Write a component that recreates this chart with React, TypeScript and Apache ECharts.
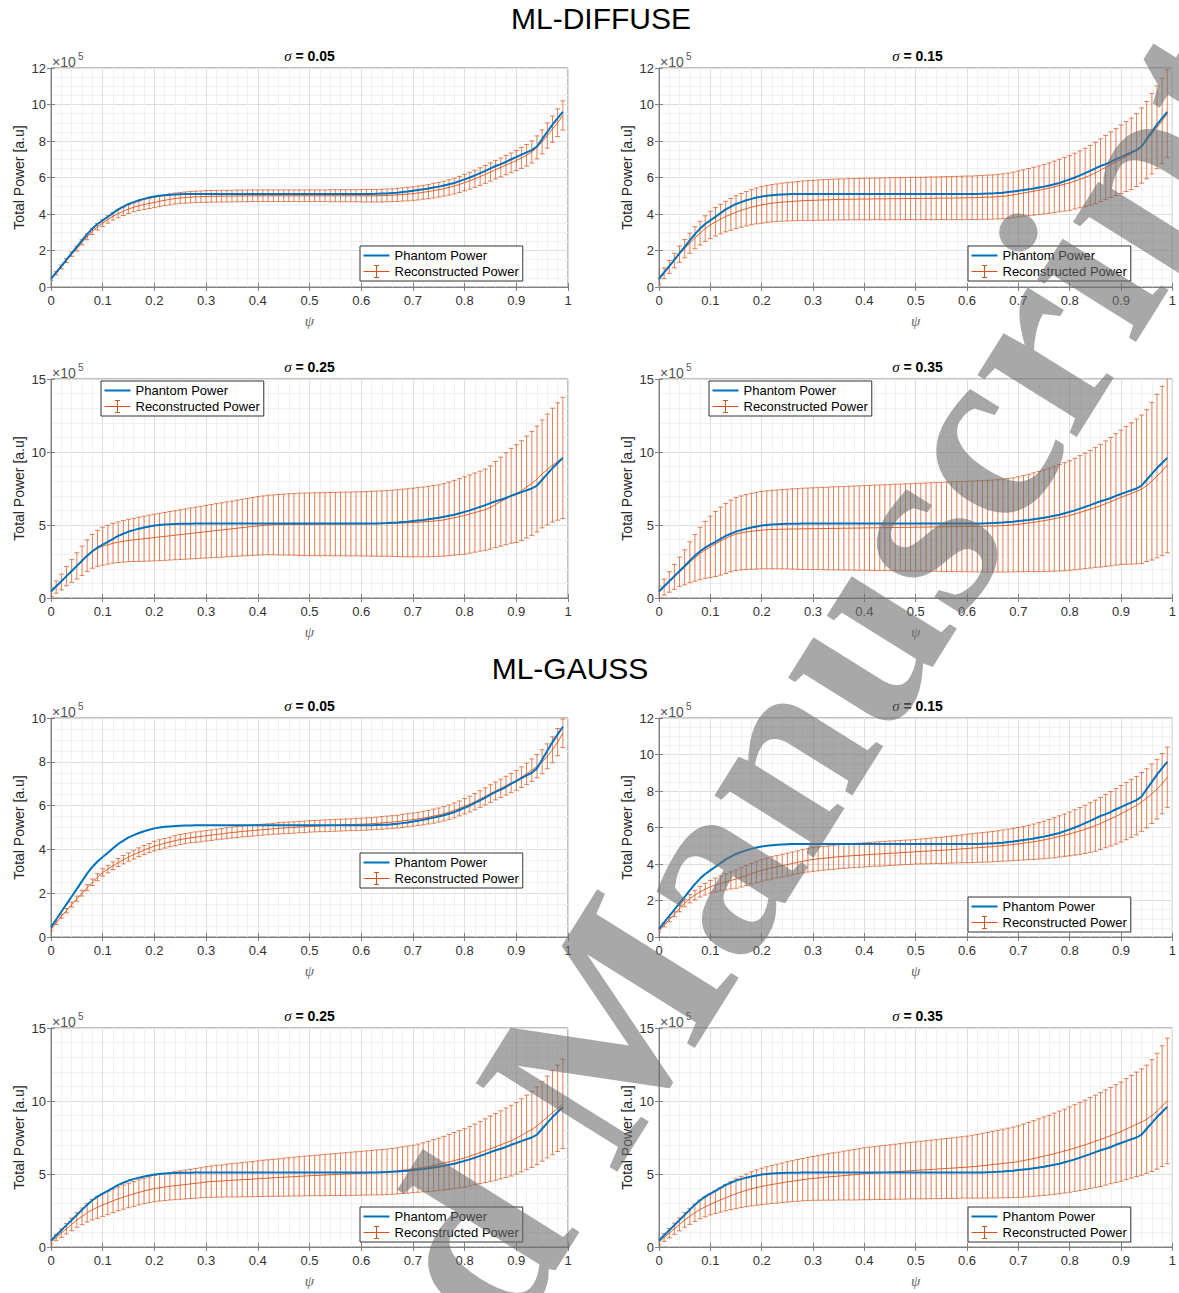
import React, { useEffect, useRef } from 'react';
import * as echarts from 'echarts';

// ---------- data (values in units of 1e5) ----------
const psi = [
  0, 0.01, 0.02, 0.03, 0.04, 0.05, 0.06, 0.07, 0.08, 0.09,
  0.1, 0.11, 0.12, 0.13, 0.14, 0.15, 0.16, 0.17, 0.18, 0.19,
  0.2, 0.21, 0.22, 0.23, 0.24, 0.25, 0.26, 0.27, 0.28, 0.29,
  0.3, 0.31, 0.32, 0.33, 0.34, 0.35, 0.36, 0.37, 0.38, 0.39,
  0.4, 0.41, 0.42, 0.43, 0.44, 0.45, 0.46, 0.47, 0.48, 0.49,
  0.5, 0.51, 0.52, 0.53, 0.54, 0.55, 0.56, 0.57, 0.58, 0.59,
  0.6, 0.61, 0.62, 0.63, 0.64, 0.65, 0.66, 0.67, 0.68, 0.69,
  0.7, 0.71, 0.72, 0.73, 0.74, 0.75, 0.76, 0.77, 0.78, 0.79,
  0.8, 0.81, 0.82, 0.83, 0.84, 0.85, 0.86, 0.87, 0.88, 0.89,
  0.9, 0.91, 0.92, 0.93, 0.94, 0.95, 0.96, 0.97, 0.98, 0.99,
];

const phantomPower = [
  0.45, 0.8, 1.15, 1.5, 1.85, 2.2, 2.55, 2.9, 3.2, 3.45,
  3.65, 3.85, 4.05, 4.25, 4.4, 4.55, 4.65, 4.75, 4.83, 4.9,
  4.96, 5.0, 5.03, 5.05, 5.07, 5.08, 5.09, 5.09, 5.1, 5.1,
  5.1, 5.1, 5.1, 5.1, 5.1, 5.1, 5.1, 5.1, 5.1, 5.1,
  5.1, 5.1, 5.1, 5.1, 5.1, 5.1, 5.1, 5.1, 5.1, 5.1,
  5.1, 5.1, 5.1, 5.1, 5.1, 5.1, 5.1, 5.1, 5.1, 5.1,
  5.1, 5.1, 5.1, 5.11, 5.12, 5.13, 5.15, 5.17, 5.2, 5.23,
  5.27, 5.31, 5.35, 5.4, 5.45, 5.5, 5.56, 5.63, 5.7, 5.8,
  5.9, 6.0, 6.12, 6.24, 6.36, 6.5, 6.63, 6.73, 6.85, 7.0,
  7.12, 7.25, 7.38, 7.5, 7.7, 8.1, 8.5, 8.9, 9.25, 9.6,
];

// ML-DIFFUSE
const diffuse005Mean = [
  0.45, 0.75, 1.1, 1.45, 1.8, 2.1, 2.45, 2.75, 3.05, 3.3,
  3.5, 3.7, 3.88, 4.02, 4.15, 4.27, 4.37, 4.45, 4.52, 4.58,
  4.63, 4.7, 4.75, 4.8, 4.85, 4.88, 4.9, 4.92, 4.94, 4.95,
  4.96, 4.97, 4.97, 4.98, 4.98, 4.98, 4.99, 4.99, 4.99, 5.0,
  5.0, 5.0, 5.0, 5.0, 5.0, 5.0, 5.0, 5.0, 5.0, 5.0,
  5.0, 5.0, 5.0, 5.0, 5.0, 5.0, 5.0, 5.0, 5.0, 5.0,
  5.0, 5.0, 5.0, 5.0, 5.01, 5.02, 5.03, 5.05, 5.07, 5.09,
  5.12, 5.15, 5.19, 5.23, 5.28, 5.33, 5.39, 5.46, 5.53, 5.62,
  5.72, 5.82, 5.93, 6.05, 6.17, 6.3, 6.43, 6.55, 6.68, 6.8,
  6.93, 7.07, 7.22, 7.4, 7.65, 7.95, 8.3, 8.65, 9.0, 9.4,
];
const diffuse005Err = [
  0.08, 0.09, 0.1, 0.11, 0.12, 0.13, 0.14, 0.16, 0.17, 0.18,
  0.19, 0.2, 0.21, 0.22, 0.23, 0.24, 0.25, 0.26, 0.27, 0.28,
  0.28, 0.29, 0.29, 0.3, 0.3, 0.3, 0.31, 0.31, 0.31, 0.31,
  0.32, 0.32, 0.32, 0.32, 0.32, 0.32, 0.32, 0.32, 0.32, 0.32,
  0.32, 0.32, 0.32, 0.32, 0.32, 0.32, 0.32, 0.32, 0.32, 0.32,
  0.32, 0.32, 0.32, 0.32, 0.33, 0.33, 0.33, 0.33, 0.33, 0.33,
  0.34, 0.34, 0.34, 0.34, 0.35, 0.35, 0.35, 0.36, 0.36, 0.37,
  0.37, 0.38, 0.38, 0.39, 0.4, 0.4, 0.41, 0.42, 0.43, 0.44,
  0.45, 0.46, 0.47, 0.48, 0.49, 0.5, 0.51, 0.52, 0.53, 0.54,
  0.55, 0.57, 0.59, 0.61, 0.63, 0.66, 0.69, 0.72, 0.76, 0.8,
];

const diffuse015Mean = [
  0.4, 0.75, 1.1, 1.45, 1.8, 2.1, 2.4, 2.7, 2.95, 3.2,
  3.4, 3.57, 3.72, 3.86, 3.98, 4.1, 4.2, 4.29, 4.37, 4.44,
  4.5, 4.55, 4.59, 4.62, 4.65, 4.67, 4.69, 4.71, 4.73, 4.74,
  4.75, 4.76, 4.77, 4.78, 4.79, 4.8, 4.8, 4.81, 4.81, 4.82,
  4.82, 4.82, 4.83, 4.83, 4.83, 4.84, 4.84, 4.84, 4.85, 4.85,
  4.85, 4.85, 4.86, 4.86, 4.86, 4.87, 4.87, 4.87, 4.88, 4.88,
  4.89, 4.89, 4.9, 4.91, 4.92, 4.93, 4.95, 4.97, 5.0, 5.05,
  5.1, 5.15, 5.2, 5.25, 5.3, 5.36, 5.42, 5.49, 5.56, 5.63,
  5.7, 5.8, 5.9, 6.0, 6.12, 6.25, 6.4, 6.55, 6.7, 6.85,
  7.0, 7.15, 7.3, 7.5, 7.75, 8.05, 8.4, 8.75, 9.1, 9.5,
];
const diffuse015Err = [
  0.25, 0.3, 0.35, 0.4, 0.45, 0.5, 0.55, 0.6, 0.65, 0.7,
  0.75, 0.78, 0.81, 0.84, 0.87, 0.9, 0.92, 0.94, 0.96, 0.98,
  1.0, 1.01, 1.02, 1.03, 1.04, 1.05, 1.06, 1.07, 1.08, 1.09,
  1.1, 1.1, 1.11, 1.11, 1.12, 1.12, 1.12, 1.13, 1.13, 1.13,
  1.14, 1.14, 1.14, 1.14, 1.15, 1.15, 1.15, 1.15, 1.15, 1.16,
  1.16, 1.16, 1.16, 1.17, 1.17, 1.17, 1.18, 1.18, 1.18, 1.19,
  1.19, 1.19, 1.2, 1.2, 1.21, 1.21, 1.22, 1.23, 1.24, 1.25,
  1.26, 1.27, 1.29, 1.31, 1.33, 1.35, 1.38, 1.41, 1.44, 1.47,
  1.5, 1.53, 1.56, 1.6, 1.64, 1.68, 1.72, 1.76, 1.8, 1.84,
  1.88, 1.92, 1.96, 2.0, 2.06, 2.12, 2.2, 2.27, 2.34, 2.4,
];

const diffuse025Mean = [
  0.4, 0.75, 1.1, 1.5, 1.85, 2.2, 2.55, 2.9, 3.2, 3.4,
  3.55, 3.65, 3.75, 3.82, 3.88, 3.94, 3.98, 4.02, 4.06, 4.1,
  4.14, 4.18, 4.22, 4.26, 4.3, 4.34, 4.38, 4.42, 4.46, 4.5,
  4.54, 4.58, 4.62, 4.66, 4.7, 4.74, 4.78, 4.82, 4.86, 4.9,
  4.94, 4.97, 5.0, 5.01, 5.02, 5.03, 5.04, 5.04, 5.05, 5.05,
  5.05, 5.05, 5.05, 5.06, 5.06, 5.06, 5.07, 5.07, 5.07, 5.08,
  5.08, 5.08, 5.09, 5.09, 5.1, 5.11, 5.12, 5.13, 5.14, 5.15,
  5.17, 5.19, 5.21, 5.24, 5.27, 5.3, 5.35, 5.42, 5.5, 5.58,
  5.65, 5.75, 5.85, 5.95, 6.05, 6.2, 6.4, 6.6, 6.8, 7.0,
  7.15, 7.35, 7.6, 7.85, 8.15, 8.5, 8.8, 9.1, 9.35, 9.6,
];
const diffuse025Err = [
  0.3, 0.42, 0.54, 0.66, 0.78, 0.9, 1.0, 1.08, 1.16, 1.23,
  1.3, 1.33, 1.36, 1.39, 1.42, 1.45, 1.48, 1.51, 1.54, 1.57,
  1.6, 1.62, 1.64, 1.66, 1.68, 1.7, 1.72, 1.74, 1.76, 1.78,
  1.8, 1.82, 1.84, 1.86, 1.88, 1.9, 1.92, 1.94, 1.96, 1.98,
  2.0, 2.02, 2.04, 2.05, 2.07, 2.08, 2.1, 2.11, 2.13, 2.14,
  2.15, 2.15, 2.16, 2.16, 2.17, 2.17, 2.18, 2.18, 2.19, 2.19,
  2.2, 2.21, 2.22, 2.23, 2.24, 2.25, 2.27, 2.29, 2.31, 2.33,
  2.35, 2.37, 2.39, 2.41, 2.43, 2.45, 2.48, 2.52, 2.56, 2.6,
  2.65, 2.68, 2.71, 2.74, 2.78, 2.85, 2.95, 3.05, 3.15, 3.25,
  3.35, 3.42, 3.49, 3.56, 3.63, 3.7, 3.8, 3.9, 4.02, 4.15,
];

const diffuse035Mean = [
  0.4, 0.75, 1.1, 1.45, 1.8, 2.1, 2.45, 2.75, 3.05, 3.3,
  3.5, 3.7, 3.9, 4.08, 4.25, 4.38, 4.46, 4.52, 4.57, 4.61,
  4.65, 4.67, 4.69, 4.7, 4.71, 4.72, 4.73, 4.73, 4.74, 4.74,
  4.75, 4.75, 4.76, 4.76, 4.77, 4.77, 4.78, 4.78, 4.79, 4.79,
  4.8, 4.8, 4.81, 4.81, 4.82, 4.82, 4.83, 4.83, 4.84, 4.84,
  4.85, 4.85, 4.86, 4.86, 4.87, 4.87, 4.88, 4.88, 4.89, 4.89,
  4.9, 4.9, 4.91, 4.91, 4.92, 4.93, 4.94, 4.96, 4.98, 5.01,
  5.05, 5.09, 5.14, 5.19, 5.24, 5.3, 5.36, 5.43, 5.5, 5.57,
  5.65, 5.75, 5.86, 5.97, 6.08, 6.2, 6.32, 6.46, 6.6, 6.75,
  6.9, 7.03, 7.16, 7.3, 7.45, 7.7, 8.0, 8.35, 8.7, 9.1,
];
const diffuse035Err = [
  0.4, 0.55, 0.7, 0.85, 1.0, 1.2, 1.4, 1.6, 1.8, 1.95,
  2.1, 2.22, 2.33, 2.4, 2.45, 2.5, 2.53, 2.56, 2.6, 2.63,
  2.65, 2.67, 2.69, 2.7, 2.72, 2.73, 2.75, 2.76, 2.78, 2.79,
  2.8, 2.81, 2.82, 2.83, 2.84, 2.85, 2.86, 2.87, 2.88, 2.89,
  2.9, 2.91, 2.92, 2.93, 2.94, 2.95, 2.96, 2.97, 2.98, 2.99,
  3.0, 3.01, 3.02, 3.03, 3.04, 3.05, 3.06, 3.07, 3.08, 3.09,
  3.1, 3.11, 3.12, 3.13, 3.14, 3.15, 3.16, 3.18, 3.2, 3.22,
  3.25, 3.29, 3.33, 3.38, 3.43, 3.48, 3.53, 3.59, 3.65, 3.7,
  3.75, 3.82, 3.89, 3.96, 4.03, 4.1, 4.2, 4.3, 4.4, 4.5,
  4.6, 4.72, 4.84, 4.96, 5.08, 5.2, 5.4, 5.6, 5.8, 6.0,
];

// ML-GAUSS
const gauss005Mean = [
  0.35, 0.65, 0.95, 1.2, 1.48, 1.75, 2.0, 2.25, 2.5, 2.73,
  2.95, 3.1, 3.25, 3.4, 3.53, 3.65, 3.76, 3.87, 3.97, 4.06,
  4.15, 4.22, 4.28, 4.34, 4.4, 4.45, 4.49, 4.53, 4.56, 4.59,
  4.62, 4.65, 4.68, 4.71, 4.74, 4.77, 4.79, 4.82, 4.84, 4.86,
  4.88, 4.9, 4.92, 4.94, 4.96, 4.98, 4.99, 5.0, 5.02, 5.03,
  5.05, 5.06, 5.07, 5.08, 5.09, 5.1, 5.11, 5.12, 5.13, 5.14,
  5.15, 5.16, 5.17, 5.19, 5.21, 5.23, 5.25, 5.27, 5.3, 5.33,
  5.36, 5.39, 5.43, 5.47, 5.52, 5.57, 5.63, 5.7, 5.78, 5.87,
  5.97, 6.07, 6.18, 6.3, 6.42, 6.55, 6.67, 6.79, 6.91, 7.03,
  7.15, 7.3, 7.45, 7.62, 7.8, 8.0, 8.25, 8.55, 8.9, 9.3,
];
const gauss005Err = [
  0.07, 0.08, 0.09, 0.1, 0.11, 0.12, 0.13, 0.14, 0.15, 0.16,
  0.17, 0.17, 0.18, 0.18, 0.19, 0.19, 0.2, 0.2, 0.21, 0.21,
  0.22, 0.22, 0.22, 0.22, 0.23, 0.23, 0.23, 0.23, 0.24, 0.24,
  0.24, 0.24, 0.24, 0.24, 0.25, 0.25, 0.25, 0.25, 0.25, 0.25,
  0.25, 0.25, 0.25, 0.25, 0.26, 0.26, 0.26, 0.26, 0.26, 0.26,
  0.26, 0.26, 0.26, 0.27, 0.27, 0.27, 0.27, 0.27, 0.27, 0.28,
  0.28, 0.28, 0.28, 0.28, 0.29, 0.29, 0.29, 0.29, 0.3, 0.3,
  0.3, 0.3, 0.31, 0.31, 0.32, 0.32, 0.33, 0.33, 0.34, 0.34,
  0.35, 0.36, 0.37, 0.38, 0.39, 0.4, 0.41, 0.42, 0.43, 0.44,
  0.45, 0.47, 0.49, 0.51, 0.53, 0.55, 0.57, 0.59, 0.62, 0.65,
];

const gauss015Mean = [
  0.35, 0.65, 0.95, 1.25, 1.55, 1.85, 2.1, 2.3, 2.48, 2.62,
  2.75, 2.85, 2.94, 3.02, 3.1, 3.17, 3.27, 3.37, 3.47, 3.56,
  3.65, 3.72, 3.79, 3.85, 3.91, 3.97, 4.03, 4.09, 4.15, 4.2,
  4.25, 4.28, 4.31, 4.34, 4.37, 4.4, 4.42, 4.44, 4.46, 4.48,
  4.5, 4.52, 4.54, 4.55, 4.57, 4.59, 4.6, 4.62, 4.64, 4.65,
  4.67, 4.69, 4.7, 4.72, 4.74, 4.75, 4.77, 4.79, 4.81, 4.83,
  4.85, 4.87, 4.89, 4.91, 4.93, 4.95, 4.98, 5.01, 5.04, 5.07,
  5.1, 5.14, 5.18, 5.22, 5.27, 5.32, 5.38, 5.44, 5.51, 5.58,
  5.65, 5.73, 5.81, 5.9, 6.0, 6.1, 6.22, 6.35, 6.48, 6.61,
  6.75, 6.9, 7.05, 7.2, 7.4, 7.6, 7.85, 8.1, 8.4, 8.75,
];
const gauss015Err = [
  0.08, 0.1, 0.12, 0.14, 0.17, 0.2, 0.23, 0.26, 0.29, 0.32,
  0.35, 0.38, 0.41, 0.44, 0.47, 0.5, 0.53, 0.55, 0.57, 0.59,
  0.6, 0.6, 0.61, 0.61, 0.62, 0.62, 0.63, 0.63, 0.64, 0.64,
  0.65, 0.65, 0.65, 0.65, 0.66, 0.66, 0.66, 0.66, 0.66, 0.66,
  0.66, 0.66, 0.66, 0.67, 0.67, 0.67, 0.67, 0.67, 0.67, 0.67,
  0.67, 0.68, 0.69, 0.7, 0.71, 0.72, 0.73, 0.74, 0.75, 0.76,
  0.78, 0.79, 0.8, 0.81, 0.82, 0.83, 0.84, 0.86, 0.87, 0.88,
  0.9, 0.92, 0.94, 0.97, 1.0, 1.03, 1.06, 1.1, 1.13, 1.16,
  1.2, 1.24, 1.28, 1.32, 1.36, 1.4, 1.43, 1.46, 1.49, 1.52,
  1.55, 1.57, 1.59, 1.6, 1.61, 1.62, 1.63, 1.64, 1.65, 1.65,
];

const gauss025Mean = [
  0.35, 0.65, 0.95, 1.25, 1.55, 1.85, 2.1, 2.35, 2.55, 2.72,
  2.88, 3.02, 3.16, 3.3, 3.42, 3.53, 3.64, 3.74, 3.84, 3.92,
  4.0, 4.06, 4.11, 4.16, 4.2, 4.24, 4.28, 4.32, 4.36, 4.4,
  4.45, 4.48, 4.5, 4.52, 4.55, 4.57, 4.59, 4.61, 4.63, 4.65,
  4.68, 4.7, 4.72, 4.74, 4.76, 4.78, 4.8, 4.82, 4.84, 4.86,
  4.88, 4.9, 4.91, 4.93, 4.95, 4.96, 4.98, 5.0, 5.01, 5.03,
  5.05, 5.07, 5.09, 5.11, 5.13, 5.15, 5.18, 5.22, 5.26, 5.3,
  5.35, 5.4, 5.46, 5.52, 5.59, 5.66, 5.74, 5.83, 5.92, 6.01,
  6.1, 6.22, 6.34, 6.47, 6.6, 6.73, 6.86, 7.0, 7.14, 7.28,
  7.45, 7.65, 7.85, 8.05, 8.3, 8.6, 8.9, 9.2, 9.5, 9.8,
];
const gauss025Err = [
  0.15, 0.22, 0.29, 0.36, 0.43, 0.5, 0.57, 0.64, 0.7, 0.75,
  0.78, 0.8, 0.81, 0.82, 0.83, 0.84, 0.85, 0.86, 0.87, 0.88,
  0.9, 0.91, 0.93, 0.94, 0.96, 0.97, 0.99, 1.0, 1.02, 1.03,
  1.05, 1.07, 1.09, 1.1, 1.12, 1.14, 1.16, 1.17, 1.19, 1.2,
  1.22, 1.24, 1.25, 1.27, 1.28, 1.3, 1.31, 1.33, 1.34, 1.36,
  1.37, 1.38, 1.4, 1.41, 1.42, 1.44, 1.45, 1.46, 1.48, 1.49,
  1.5, 1.51, 1.52, 1.54, 1.55, 1.56, 1.57, 1.58, 1.6, 1.61,
  1.62, 1.65, 1.68, 1.72, 1.76, 1.8, 1.84, 1.88, 1.92, 1.96,
  2.0, 2.04, 2.08, 2.13, 2.18, 2.23, 2.28, 2.33, 2.38, 2.42,
  2.45, 2.5, 2.55, 2.6, 2.66, 2.72, 2.8, 2.88, 2.96, 3.05,
];

const gauss035Mean = [
  0.35, 0.65, 0.95, 1.25, 1.55, 1.85, 2.1, 2.35, 2.57, 2.75,
  2.92, 3.08, 3.23, 3.38, 3.52, 3.65, 3.77, 3.88, 3.98, 4.07,
  4.15, 4.22, 4.28, 4.34, 4.4, 4.46, 4.51, 4.56, 4.61, 4.66,
  4.7, 4.73, 4.77, 4.8, 4.83, 4.86, 4.89, 4.92, 4.95, 4.98,
  5.02, 5.04, 5.06, 5.09, 5.11, 5.13, 5.16, 5.18, 5.2, 5.23,
  5.25, 5.27, 5.29, 5.31, 5.33, 5.36, 5.38, 5.4, 5.42, 5.45,
  5.47, 5.5, 5.53, 5.57, 5.6, 5.64, 5.68, 5.72, 5.76, 5.8,
  5.85, 5.92, 5.99, 6.06, 6.14, 6.22, 6.3, 6.39, 6.48, 6.57,
  6.67, 6.78, 6.89, 7.0, 7.12, 7.24, 7.36, 7.5, 7.63, 7.77,
  7.9, 8.07, 8.24, 8.4, 8.56, 8.75, 9.0, 9.3, 9.65, 10.0,
];
const gauss035Err = [
  0.2, 0.26, 0.32, 0.38, 0.44, 0.5, 0.55, 0.6, 0.64, 0.68,
  0.72, 0.78, 0.84, 0.9, 0.96, 1.02, 1.07, 1.12, 1.17, 1.21,
  1.25, 1.28, 1.3, 1.33, 1.35, 1.38, 1.4, 1.43, 1.45, 1.48,
  1.5, 1.53, 1.56, 1.59, 1.62, 1.64, 1.67, 1.7, 1.73, 1.75,
  1.78, 1.8, 1.81, 1.83, 1.85, 1.87, 1.88, 1.9, 1.92, 1.93,
  1.95, 1.97, 1.99, 2.0, 2.02, 2.04, 2.05, 2.07, 2.09, 2.1,
  2.12, 2.15, 2.18, 2.22, 2.25, 2.28, 2.32, 2.35, 2.38, 2.42,
  2.45, 2.5, 2.55, 2.59, 2.64, 2.69, 2.73, 2.78, 2.83, 2.87,
  2.92, 2.97, 3.02, 3.06, 3.11, 3.16, 3.21, 3.26, 3.3, 3.35,
  3.4, 3.46, 3.52, 3.58, 3.64, 3.7, 3.83, 3.97, 4.13, 4.3,
];

const sectionTitles = ['ML-DIFFUSE', 'ML-GAUSS'];
const sigmaLabels = ['0.05', '0.15', '0.25', '0.35', '0.05', '0.15', '0.25', '0.35'];
const yMaxima = [12, 12, 15, 15, 10, 12, 15, 15];
const yIntervals = [2, 2, 5, 5, 2, 2, 5, 5];
const means = [diffuse005Mean, diffuse015Mean, diffuse025Mean, diffuse035Mean, gauss005Mean, gauss015Mean, gauss025Mean, gauss035Mean];
const errs = [diffuse005Err, diffuse015Err, diffuse025Err, diffuse035Err, gauss005Err, gauss015Err, gauss025Err, gauss035Err];

// ---------- layout / style ----------
const FONT = '"Liberation Sans", Arial, Helvetica, sans-serif';
const SERIF = '"Liberation Serif", "Times New Roman", serif';
const BLUE = '#0072BD';
const ORANGE = '#D95319';
const AXIS = '#808080';
const COL_LEFT = [51, 659];
const ROW_TOP = [68, 379, 718, 1028];
const PLOT_W = 517;
const PLOT_H = 219;
const LEGEND_POS = [
  [360, 246], [968, 246], [101, 381], [709, 381],
  [360, 853], [968, 897], [360, 1207], [968, 1207],
];
const SECTION_POS = [[601, 18], [570, 668]];
const WATERMARK_ROT = (58 * Math.PI) / 180;
const WATERMARK_SIZE = 255;
const WATERMARK_FIRST = [508, 1184];
const WATERMARK_SECOND = [542, 1130];

function buildOption() {
  const grid: any[] = [];
  const xAxis: any[] = [];
  const yAxis: any[] = [];
  const series: any[] = [];
  const legend: any[] = [];
  const graphic: any[] = [];

  for (let i = 0; i < 8; i++) {
    const col = i % 2;
    const row = Math.floor(i / 2);
    const left = COL_LEFT[col];
    const top = ROW_TOP[row];
    const yMax = yMaxima[i];
    const yInt = yIntervals[i];
    grid.push({
      left, top, width: PLOT_W, height: PLOT_H,
      show: true, borderColor: AXIS, borderWidth: 1, backgroundColor: '#fff',
    });
    const common = { gridIndex: i, type: 'value', min: 0 };
    xAxis.push({
      ...common, max: 1, interval: 0.1, position: 'bottom',
      axisLine: { show: true, onZero: false, lineStyle: { color: AXIS, width: 1 } },
      axisTick: { show: true, inside: true, length: 4, lineStyle: { color: AXIS } },
      axisLabel: { color: '#333', fontSize: 13, fontFamily: FONT, margin: 7 },
      splitLine: { show: true, lineStyle: { color: '#dedede', width: 1 } },
      minorTick: { show: false, splitNumber: 5 },
      minorSplitLine: { show: true, lineStyle: { color: '#f1f1f1', width: 1 } },
      name: 'ψ', nameLocation: 'middle', nameGap: 26,
      nameTextStyle: { fontFamily: SERIF, fontStyle: 'italic', fontSize: 15, color: '#666' },
    });
    xAxis.push({
      ...common, max: 1, interval: 0.1, position: 'top',
      axisLine: { show: false },
      axisTick: { show: true, inside: true, length: 4, lineStyle: { color: AXIS } },
      axisLabel: { show: false }, splitLine: { show: false },
    });
    yAxis.push({
      ...common, max: yMax, interval: yInt, position: 'left',
      axisLine: { show: true, onZero: false, lineStyle: { color: AXIS, width: 1 } },
      axisTick: { show: true, inside: true, length: 4, lineStyle: { color: AXIS } },
      axisLabel: { color: '#333', fontSize: 13, fontFamily: FONT, margin: 5 },
      splitLine: { show: true, lineStyle: { color: '#dedede', width: 1 } },
      minorTick: { show: false, splitNumber: yInt === 5 ? 5 : 4 },
      minorSplitLine: { show: true, lineStyle: { color: '#f1f1f1', width: 1 } },
      name: 'Total Power [a.u]', nameLocation: 'middle', nameGap: 25,
      nameTextStyle: { fontFamily: FONT, fontSize: 14, color: '#262626' },
    });
    yAxis.push({
      ...common, max: yMax, interval: yInt, position: 'right',
      axisLine: { show: false },
      axisTick: { show: true, inside: true, length: 4, lineStyle: { color: AXIS } },
      axisLabel: { show: false }, splitLine: { show: false },
    });

    const m = means[i];
    const e = errs[i];
    series.push({
      type: 'custom', name: 'Reconstructed Power',
      xAxisIndex: 2 * i, yAxisIndex: 2 * i,
      clip: true, z: 2,
      itemStyle: { color: ORANGE },
      encode: { x: 0, y: [1, 2] },
      data: psi.map((x, k) => [x, m[k] - e[k], m[k] + e[k]]),
      renderItem: (params: any, api: any) => {
        const x = api.value(0);
        const lo = api.coord([x, api.value(1)]);
        const hi = api.coord([x, api.value(2)]);
        const hw = 2.5;
        const style = { stroke: ORANGE, lineWidth: 1, opacity: 0.72 };
        return {
          type: 'group',
          children: [
            { type: 'line', shape: { x1: lo[0], y1: lo[1], x2: hi[0], y2: hi[1] }, style },
            { type: 'line', shape: { x1: hi[0] - hw, y1: hi[1], x2: hi[0] + hw, y2: hi[1] }, style },
            { type: 'line', shape: { x1: lo[0] - hw, y1: lo[1], x2: lo[0] + hw, y2: lo[1] }, style },
          ],
        };
      },
    });
    series.push({
      type: 'line', name: 'Reconstructed Power',
      xAxisIndex: 2 * i, yAxisIndex: 2 * i, z: 3,
      symbol: 'none', showSymbol: false, clip: true,
      lineStyle: { color: ORANGE, width: 1, opacity: 0.9 },
      itemStyle: { color: ORANGE },
      data: psi.map((x, k) => [x, m[k]]),
    });
    series.push({
      type: 'line', name: 'Phantom Power',
      xAxisIndex: 2 * i, yAxisIndex: 2 * i, z: 4,
      symbol: 'none', showSymbol: false, clip: true,
      lineStyle: { color: BLUE, width: 2 },
      itemStyle: { color: BLUE },
      data: psi.map((x, k) => [x, phantomPower[k]]),
    });

    legend.push({
      orient: 'vertical', left: LEGEND_POS[i][0], top: LEGEND_POS[i][1],
      selectedMode: false, backgroundColor: '#fff', borderColor: '#333', borderWidth: 1,
      borderRadius: 0, padding: [3, 4, 3, 3], itemGap: 3, itemWidth: 26, itemHeight: 14,
      textStyle: { fontSize: 13, color: '#000', fontFamily: FONT },
      z: 10,
      data: [
        {
          name: 'Phantom Power',
          icon: 'path://M0,0L26,0L26,2L0,2Z',
          itemStyle: { color: BLUE, borderWidth: 0 },
        },
        {
          name: 'Reconstructed Power',
          icon: 'path://M0,6L26,6M13,0L13,12M10.5,0L15.5,0M10.5,12L15.5,12',
          itemStyle: { color: 'rgba(0,0,0,0)', borderColor: ORANGE, borderWidth: 1 },
        },
      ],
    });

    graphic.push({
      type: 'text', x: left + PLOT_W / 2, y: top - 12, z: 5,
      style: {
        text: '{s|σ}{b| = ' + sigmaLabels[i] + '}',
        align: 'center', verticalAlign: 'middle',
        rich: {
          s: { fontFamily: SERIF, fontStyle: 'italic', fontSize: 15, fill: '#000' },
          b: { fontFamily: FONT, fontWeight: 'bold', fontSize: 14, fill: '#000' },
        },
      },
    });
    graphic.push({
      type: 'text', x: left + 1, y: top - 6, z: 5,
      style: { text: '×10', fontFamily: FONT, fontSize: 14, fill: '#555', align: 'left', verticalAlign: 'middle' },
    });
    graphic.push({
      type: 'text', x: left + 27, y: top - 12, z: 5,
      style: { text: '5', fontFamily: FONT, fontSize: 10, fill: '#555', align: 'left', verticalAlign: 'middle' },
    });
  }

  sectionTitles.forEach((t, k) => {
    graphic.push({
      type: 'text', x: SECTION_POS[k][0], y: SECTION_POS[k][1], z: 5,
      style: { text: t, fontFamily: FONT, fontSize: 30, fill: '#000', align: 'center', verticalAlign: 'middle' },
    });
  });

  // "Accepted Manuscript" watermark
  graphic.push({
    type: 'text', x: WATERMARK_FIRST[0], y: WATERMARK_FIRST[1], rotation: WATERMARK_ROT, z: 100, silent: true,
    style: {
      text: 'Accepted', fontFamily: SERIF, fontWeight: 'bold', fontSize: WATERMARK_SIZE,
      fill: 'rgba(110,110,110,0.6)', align: 'right', verticalAlign: 'middle',
    },
  });
  graphic.push({
    type: 'text', x: WATERMARK_SECOND[0], y: WATERMARK_SECOND[1], rotation: WATERMARK_ROT, z: 100, silent: true,
    style: {
      text: 'Manuscript', fontFamily: SERIF, fontWeight: 'bold', fontSize: WATERMARK_SIZE,
      fill: 'rgba(110,110,110,0.6)', align: 'left', verticalAlign: 'middle',
    },
  });

  return {
    animation: false,
    backgroundColor: '#fff',
    grid, xAxis, yAxis, series, legend, graphic,
  };
}

export default function App() {
  const ref = useRef<HTMLDivElement>(null);
  useEffect(() => {
    document.body.style.margin = '0';
    const chart = echarts.init(ref.current as HTMLDivElement, null, { renderer: 'svg' });
    chart.setOption(buildOption() as any);
    return () => chart.dispose();
  }, []);
  return <div ref={ref} style={{ width: 1179, height: 1293, background: '#fff' }} />;
}
